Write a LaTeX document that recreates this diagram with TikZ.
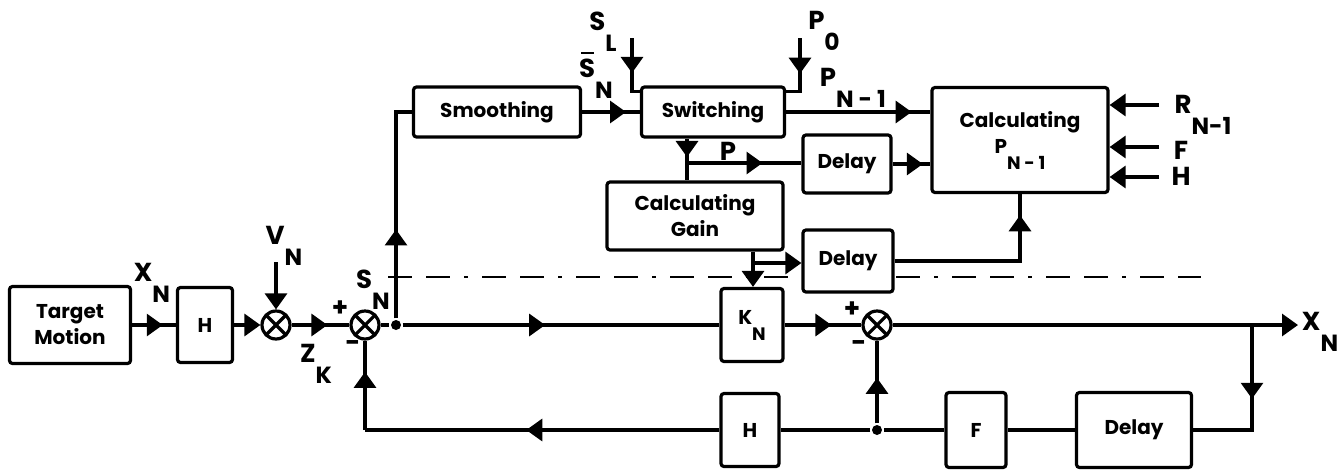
\documentclass[tikz,border=0pt]{standalone}
\usepackage{graphicx}
\usepackage{fontspec}
\setmainfont{Poppins}
\usetikzlibrary{arrows.meta,calc,decorations.markings}

\newcommand{\lowsub}[2]{#1\raisebox{-0.8em}{\scalebox{0.9}{#2}}}
\newcommand{\barS}{\leavevmode\rlap{\kern0.08em\raisebox{0.9em}{\rule{0.5em}{1.4pt}}}S}

\begin{document}
\begin{tikzpicture}[x=0.5pt,y=-0.5pt,line width=1.6pt,
  block/.style={draw,fill=white,rounded corners=1.5pt,align=center,inner sep=0pt,
    font=\bfseries\fontsize{10}{13}\selectfont},
  sumnode/.style={circle,draw,fill=white,minimum size=14pt,inner sep=0pt,
    path picture={\draw (path picture bounding box.north west) -- (path picture bounding box.south east)
      (path picture bounding box.north east) -- (path picture bounding box.south west);}},
  dot/.style={circle,fill,inner sep=0pt,minimum size=5pt},
  lab/.style={font=\bfseries\fontsize{13}{15}\selectfont,inner sep=0pt},
  flow/.style={-{Triangle[length=8pt,width=11pt]}},
  arrowat/.style={postaction={decorate},decoration={markings,
    mark=at position #1 with {\arrow{Triangle[length=8pt,width=11pt]}}}},
  sepline/.style={line width=1.4pt,dash pattern=on 12pt off 7pt on 12pt off 7pt on 2pt off 7pt}]

\useasboundingbox (0,0) rectangle (1338,472);

% Separation line
\draw[sepline] (388,277) -- (1201,277);

% Main path
\node[block,minimum width=60.5pt,minimum height=38.5pt] (tm) at (70,325) {Target\\Motion};
\node[block,minimum width=27.5pt,minimum height=37.5pt] (h1) at (205,325) {H};
\node[sumnode] (s1) at (276,325) {};
\node[sumnode] (s2) at (365,325) {};
\node[dot] (j1) at (396,325) {};
\node[block,minimum width=31pt,minimum height=36.5pt] (kn) at (752,325) {\lowsub{K}{N}};
\node[sumnode] (s3) at (877,325) {};

% Upper blocks
\node[block,minimum width=83.5pt,minimum height=25pt] (smooth) at (497,112) {Smoothing};
\node[block,minimum width=71.5pt,minimum height=25pt] (switch) at (713,112) {Switching};
\node[block,minimum width=88pt,minimum height=34pt] (gain) at (695,216) {Calculating\\Gain};
\node[block,minimum width=44pt,minimum height=29pt] (dly1) at (847,164) {Delay};
\node[block,minimum width=45pt,minimum height=31pt] (dly2) at (848,261) {Delay};
\node[block,minimum width=88pt,minimum height=52.5pt] (calc) at (1020,140) {Calculating\\\lowsub{P}{N - 1}};

% Feedback blocks
\node[block,minimum width=29pt,minimum height=36.5pt] (h2) at (750,430) {H};
\node[block,minimum width=30pt,minimum height=37.5pt] (f) at (976,430) {F};
\node[block,minimum width=57.5pt,minimum height=37.5pt] (dly3) at (1134,430) {Delay};
\node[dot] (j2) at (877,430) {};

% Free ends and branch points
\coordinate (vn) at (276,262);
\coordinate (sl) at (632,38);
\coordinate (p0) at (800,38);
\coordinate (pb) at (687,163);
\coordinate (gb) at (753,263);
\coordinate (rin) at (1159,105);
\coordinate (fin) at (1159,147);
\coordinate (hin) at (1159,177);
\coordinate (out) at (1298,325);
\coordinate (xb) at (1252,325);

% Input chain
\draw[arrowat=0.7] (tm) -- (h1);
\draw[flow] (h1) -- (s1);
\draw[flow] (vn) -- (s1);
\draw[arrowat=0.62] (s1) -- (s2);
\draw (s2) -- (j1);
\draw[arrowat=0.45] (j1) -- (kn);

% Upper loop
\draw[arrowat=0.4] (j1) |- (smooth);
\draw[arrowat=0.76] (smooth) -- (switch);
\draw[arrowat=0.57] (sl) |- ($(switch.north west)+(0,6)$);
\draw[arrowat=0.53] (p0) |- ($(switch.north east)+(0,6)$);
\draw[arrowat=0.87] (switch) -- (switch -| calc.west);
\draw[arrowat=0.44] (switch.south -| pb) -- (gain.north -| pb);
\draw[arrowat=0.66] (pb) -- (pb -| dly1.west);
\draw[arrowat=0.8] (dly1) -- (dly1 -| calc.west);
\foreach \c in {rin,fin,hin}
  \draw[flow] (\c) -- (\c -| calc.east);
\draw[flow] (gain.south -| gb) -- (kn.north -| gb);
\draw[flow] (gb) -- (gb -| dly2.west);
\draw[arrowat=0.89] (dly2) -| (calc);

% Output and feedback
\draw[arrowat=0.61] (kn) -- (s3);
\draw[flow] (s3) -- (out);
\draw[arrowat=0.45] (xb) |- (dly3);
\draw (dly3) -- (f);
\draw (f) -- (j2);
\draw (j2) -- (h2);
\draw[arrowat=0.55] (j2) -- (s3);
\draw[arrowat=0.545] (h2) -- (h2 -| s2);
\draw[arrowat=0.65] (h2 -| s2) -- (s2);

% Labels
\node[lab] (lxin) at (152,283) {\lowsub{X}{N}};
\node[lab] (lvn) at (284,246) {\lowsub{V}{N}};
\node[lab] (lzk) at (316,364) {\lowsub{Z}{K}};
\node[lab] (lsn) at (373,290) {\lowsub{S}{N}};
\node[lab] (lsbar) at (596,75) {\lowsub{\barS}{N}};
\node[lab] (lsl) at (603,32) {\lowsub{S}{L}};
\node[lab] (lp0) at (824,31) {\lowsub{P}{0}};
\node[lab] (lpn) at (853,88) {\lowsub{P}{N - 1}};
\node[lab] (lp) at (728,151) {P};
\node[lab] (lrn) at (1203,115) {\lowsub{R}{N-1}};
\node[lab] (lf) at (1181,150) {F};
\node[lab] (lh) at (1181,176) {H};
\node[lab] (lxout) at (1320,332) {\lowsub{X}{N}};
\node[lab] (lp1) at (340,309) {+};
\node[lab] (lm1) at (353,346) {-};
\node[lab] (lp3) at (852,310) {+};
\node[lab] (lm3) at (859,346) {-};

\end{tikzpicture}
\end{document}
